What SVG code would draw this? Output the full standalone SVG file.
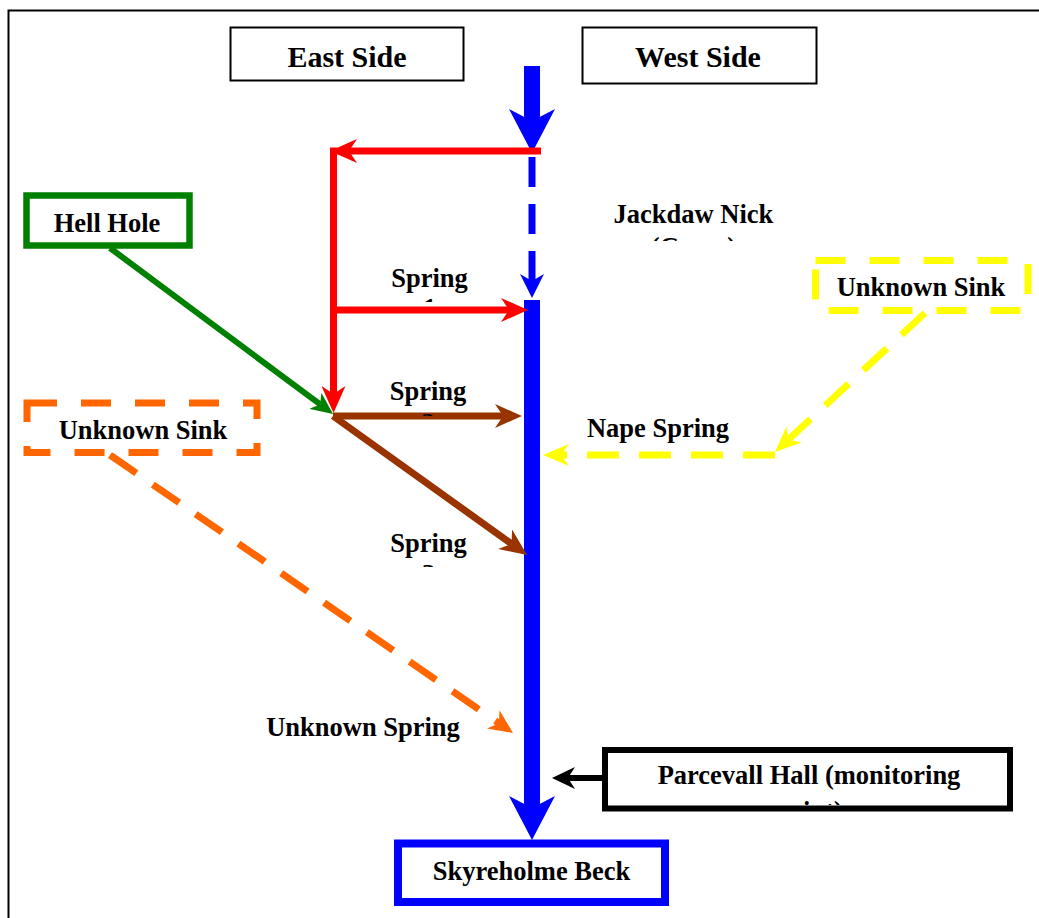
<svg xmlns="http://www.w3.org/2000/svg" width="1039" height="918" viewBox="0 0 1039 918">
<style>
text{font-family:"Liberation Serif","Times New Roman",serif;font-weight:bold;font-size:26.5px;fill:#000;text-anchor:middle}
.h{font-size:30px}
.box{fill:#fff}
</style>
<defs>
<marker id="mBlueBig" markerUnits="userSpaceOnUse" orient="auto" viewBox="0 0 44 46" markerWidth="44" markerHeight="46" refX="12" refY="23"><path d="M0,0 L44,23 L0,46 L12,23 z" fill="#0000FF"/></marker>
<marker id="mBlueSmall" markerUnits="userSpaceOnUse" orient="auto" viewBox="0 0 24 24" markerWidth="24" markerHeight="24" refX="7" refY="12"><path d="M0,0 L24,12 L0,24 L7,12 z" fill="#0000FF"/></marker>
<marker id="mRed" markerUnits="userSpaceOnUse" orient="auto" viewBox="0 0 27 24" markerWidth="27" markerHeight="24" refX="8" refY="12"><path d="M0,0 L27,12 L0,24 L8,12 z" fill="#FF0000"/></marker>
<marker id="mBrown" markerUnits="userSpaceOnUse" orient="auto" viewBox="0 0 27 24" markerWidth="27" markerHeight="24" refX="8" refY="12"><path d="M0,0 L27,12 L0,24 L8,12 z" fill="#993300"/></marker>
<marker id="mGreen" markerUnits="userSpaceOnUse" orient="auto" viewBox="0 0 22 20" markerWidth="22" markerHeight="20" refX="6" refY="10"><path d="M0,0 L22,10 L0,20 L6,10 z" fill="#008000"/></marker>
<marker id="mOrange" markerUnits="userSpaceOnUse" orient="auto" viewBox="0 0 24 22" markerWidth="24" markerHeight="22" refX="7" refY="11"><path d="M0,0 L24,11 L0,22 L7,11 z" fill="#FF6600"/></marker>
<marker id="mYellow" markerUnits="userSpaceOnUse" orient="auto" viewBox="0 0 26 22" markerWidth="26" markerHeight="22" refX="8" refY="11"><path d="M0,0 L26,11 L0,22 L8,11 z" fill="#FFFF00"/></marker>
<marker id="mBlack" markerUnits="userSpaceOnUse" orient="auto" viewBox="0 0 23 22" markerWidth="23" markerHeight="22" refX="7" refY="11"><path d="M0,0 L23,11 L0,22 L7,11 z" fill="#000"/></marker>
<clipPath id="cJack"><rect x="580" y="190" width="230" height="51"/></clipPath>
<clipPath id="cS1"><rect x="380" y="260" width="100" height="42"/></clipPath>
<clipPath id="cS2"><rect x="380" y="375" width="100" height="41"/></clipPath>
<clipPath id="cS3"><rect x="380" y="525" width="100" height="42"/></clipPath>
<clipPath id="cPar"><rect x="610" y="755" width="398" height="50"/></clipPath>
</defs>
<rect x="0" y="0" width="1039" height="918" fill="#fff"/>
<rect x="8.5" y="10.5" width="1100" height="1000" fill="none" stroke="#000" stroke-width="2"/>

<g id="connectors" fill="none">
<line x1="532" y1="66" x2="532" y2="121" stroke="#0000FF" stroke-width="16" marker-end="url(#mBlueBig)"/>
<line x1="532" y1="157" x2="532" y2="281" stroke="#0000FF" stroke-width="7" stroke-dasharray="30 17" marker-end="url(#mBlueSmall)"/>
<line x1="532" y1="300" x2="532" y2="808" stroke="#0000FF" stroke-width="16" marker-end="url(#mBlueBig)"/>
<line x1="541" y1="151" x2="349" y2="151" stroke="#FF0000" stroke-width="7" marker-end="url(#mRed)"/>
<line x1="333.5" y1="147.5" x2="333.5" y2="394" stroke="#FF0000" stroke-width="7" marker-end="url(#mRed)"/>
<line x1="333" y1="310" x2="509" y2="310" stroke="#FF0000" stroke-width="7" marker-end="url(#mRed)"/>
<line x1="333" y1="416" x2="503" y2="416" stroke="#993300" stroke-width="7" marker-end="url(#mBrown)"/>
<line x1="333" y1="416" x2="511.6" y2="543.9" stroke="#993300" stroke-width="7" marker-end="url(#mBrown)"/>
<line x1="110" y1="248" x2="320.2" y2="404.4" stroke="#008000" stroke-width="6" marker-end="url(#mGreen)"/>
<line x1="110" y1="455" x2="499" y2="723.3" stroke="#FF6600" stroke-width="7" stroke-dasharray="32 20" marker-end="url(#mOrange)"/>
<line x1="925" y1="313" x2="788.2" y2="439.8" stroke="#FFFF00" stroke-width="7" stroke-dasharray="32 20" marker-end="url(#mYellow)"/>
<line x1="775" y1="455" x2="561" y2="455" stroke="#FFFF00" stroke-width="7" stroke-dasharray="32 20" marker-end="url(#mYellow)"/>
<line x1="605" y1="778" x2="568" y2="778" stroke="#000" stroke-width="6" marker-end="url(#mBlack)"/>
</g>

<g id="east-side"><rect x="230.5" y="27.5" width="233" height="53" class="box" stroke="#000" stroke-width="2"/><text class="h" x="347" y="67">East Side</text></g>
<g id="west-side"><rect x="582.5" y="27.5" width="234" height="56" class="box" stroke="#000" stroke-width="2"/><text class="h" x="698" y="67">West Side</text></g>
<g id="hell-hole"><rect x="26.5" y="195.5" width="163" height="50" class="box" stroke="#008000" stroke-width="6.5"/><text x="107" y="232">Hell Hole</text></g>
<g id="unknown-sink-east"><rect x="27" y="403" width="230" height="49.5" class="box" stroke="#FF6600" stroke-width="7" stroke-dasharray="30 24"/><text x="143" y="439">Unknown Sink</text></g>
<g id="unknown-sink-west"><rect x="815.5" y="260.5" width="212.5" height="50" class="box" stroke="#FFFF00" stroke-width="7" stroke-dasharray="30 24"/><text x="921" y="296">Unknown Sink</text></g>
<g id="jackdaw-nick"><g clip-path="url(#cJack)"><text x="693.5" y="223">Jackdaw Nick</text><text x="693.5" y="256">(Caves)</text></g></g>
<g id="spring-1"><g clip-path="url(#cS1)"><text x="429.5" y="287">Spring</text><text x="429.5" y="317">1</text></g></g>
<g id="spring-2"><g clip-path="url(#cS2)"><text x="428" y="400">Spring</text><text x="428" y="432">2</text></g></g>
<g id="spring-3"><g clip-path="url(#cS3)"><text x="428.5" y="552">Spring</text><text x="428.5" y="583">3</text></g></g>
<g id="nape-spring"><text x="658" y="437">Nape Spring</text></g>
<g id="unknown-spring"><text x="363" y="736">Unknown Spring</text></g>
<g id="parcevall-hall"><rect x="605" y="750" width="405" height="58.5" class="box" stroke="#000" stroke-width="6"/><g clip-path="url(#cPar)"><text x="809" y="784">Parcevall Hall (monitoring</text><text x="809" y="820">point)</text></g></g>
<g id="skyreholme-beck"><rect x="398" y="843.5" width="267" height="58.5" class="box" stroke="#0000FF" stroke-width="8"/><text x="531.5" y="880">Skyreholme Beck</text></g>
</svg>
